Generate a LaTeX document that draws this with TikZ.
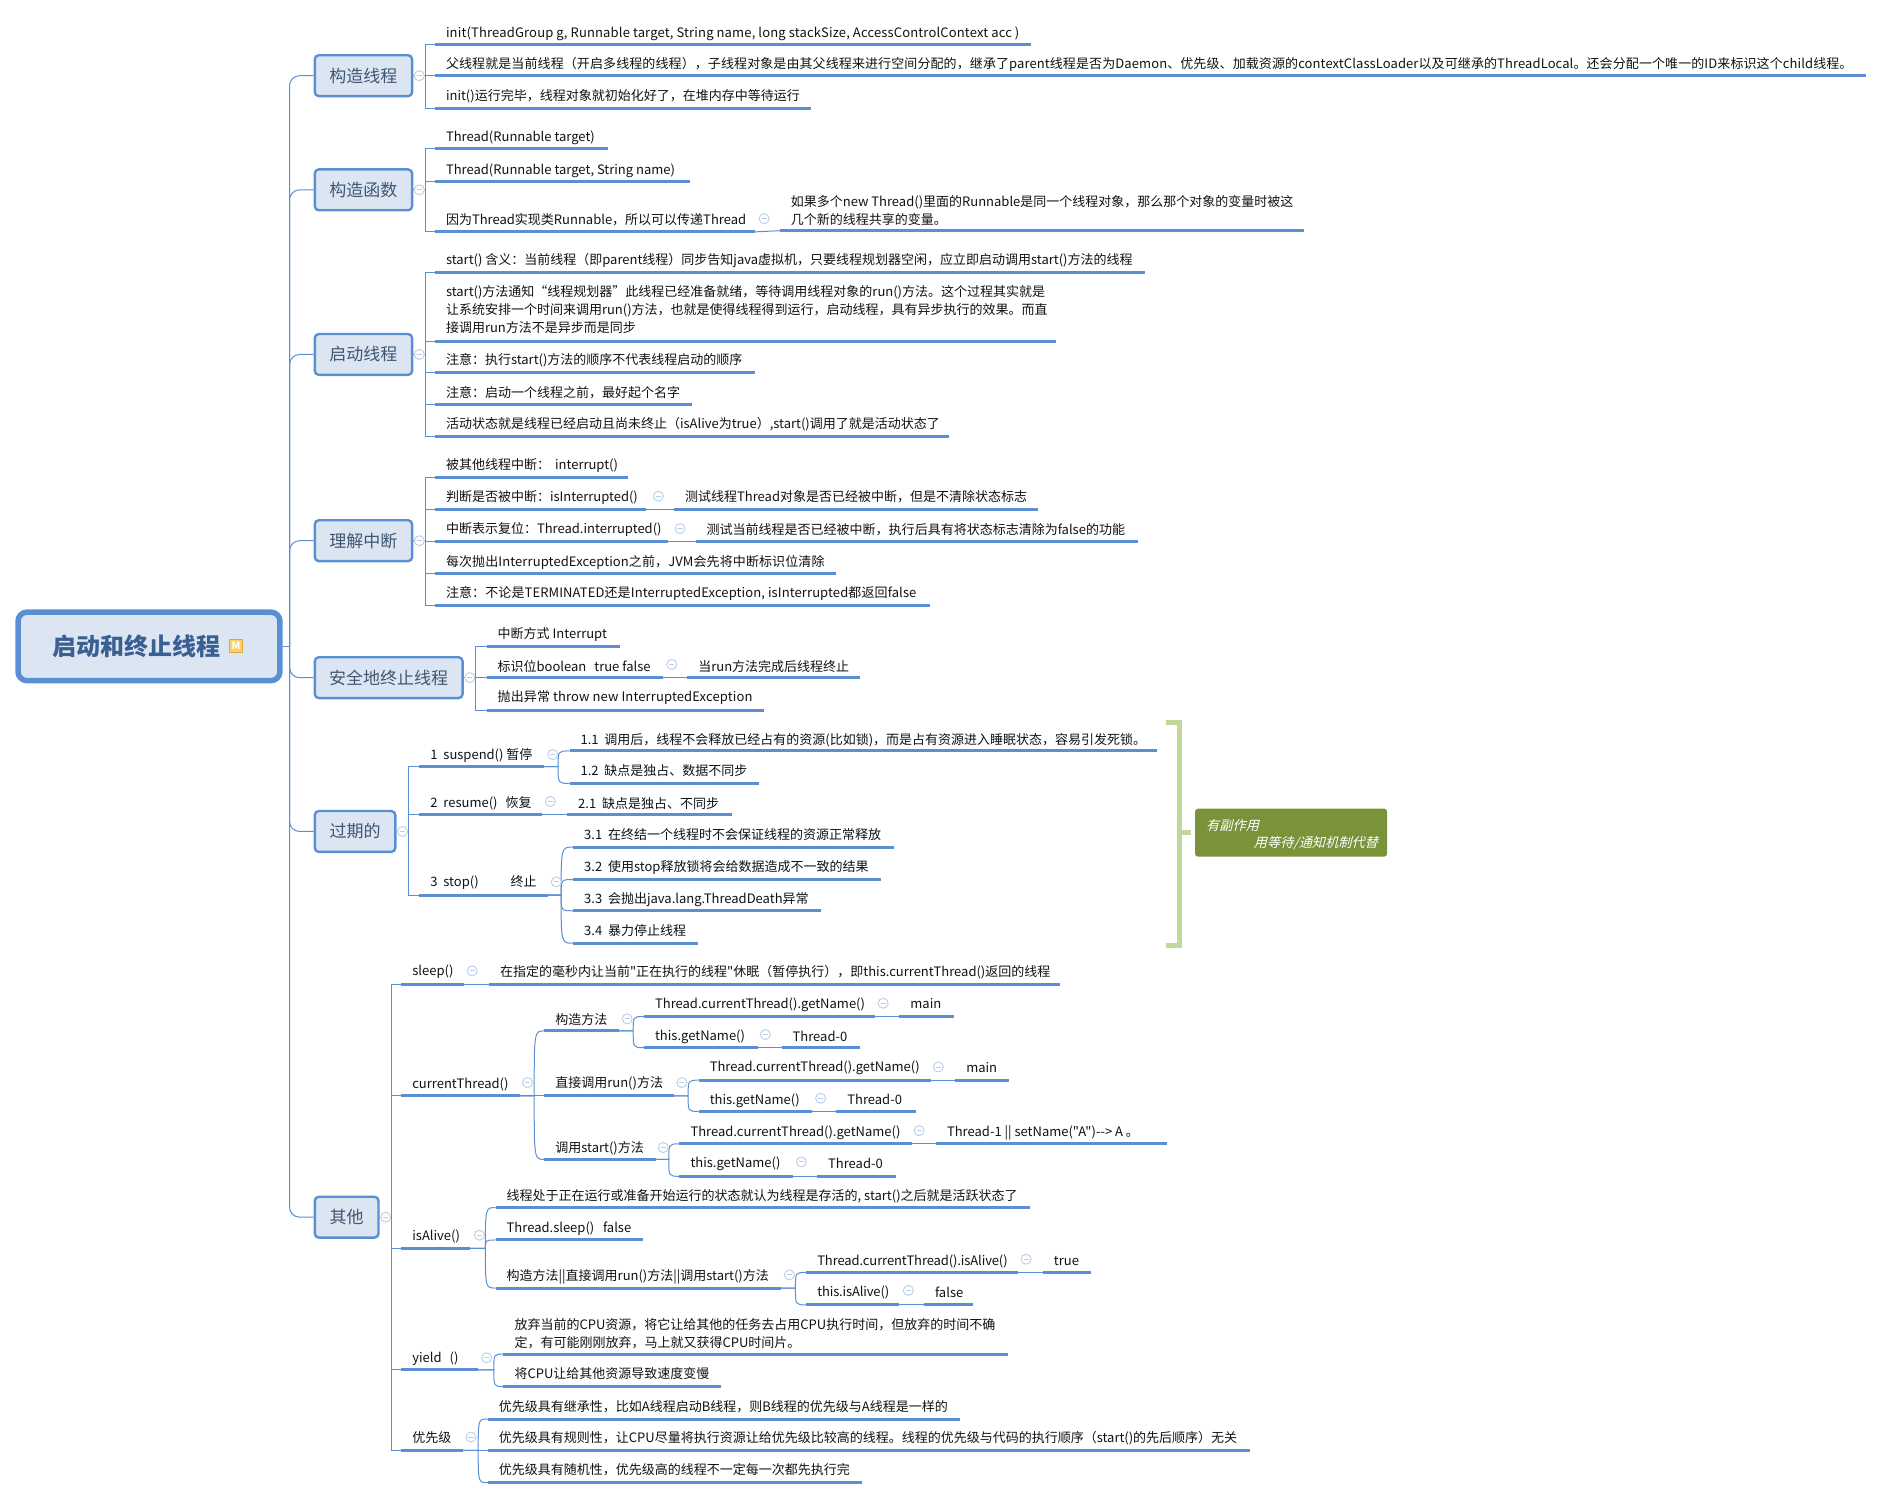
\documentclass[tikz,border=0pt]{standalone}
\usepackage{fontspec}
\setmainfont{Noto Sans CJK SC}
\newfontfamily\plainfont{Noto Sans CJK SC}
\newfontfamily\slantfont[FakeSlant=0.25]{Noto Sans CJK SC}
\usetikzlibrary{calc}
\definecolor{blueline}{HTML}{5B8FD4}
\definecolor{boxfill}{HTML}{DCE6F2}
\definecolor{boxtext}{HTML}{3F5673}
\definecolor{roottext}{HTML}{3A5F93}
\definecolor{leafink}{HTML}{111111}
\definecolor{collapseink}{HTML}{B9CDEA}
\definecolor{bracketgreen}{HTML}{C3D69B}
\definecolor{notegreen}{HTML}{7A923A}
\definecolor{iconfill}{HTML}{F9D36D}
\definecolor{iconline}{HTML}{E5A33B}
\tikzset{
  x=1.2015pt,y=-1.2015pt,
  uline/.style={draw=blueline,line width=3pt},
  conn/.style={draw=blueline,line width=1pt},
  leaftext/.style={anchor=west,inner sep=0pt,outer sep=0pt,text=leafink,align=left,font=\plainfont\fontsize{13}{18}\selectfont},
  topic/.style={draw=blueline,line width=2.4pt,fill=boxfill,rounded corners=4pt,inner sep=0pt,text=boxtext,font=\fontsize{17}{20}\selectfont},
  rootbox/.style={draw=blueline,line width=5.5pt,fill=boxfill,rounded corners=9pt,inner sep=0pt},
  collapse/.style={circle,draw=collapseink,line width=.9pt,fill=white,minimum size=10pt,inner sep=0pt,
    path picture={\draw[collapseink,line width=.9pt] ([xshift=-2.6pt]path picture bounding box.center)--([xshift=2.6pt]path picture bounding box.center);}},
}
\newcommand\st{\rule[-2pt]{0pt}{14.9pt}}
\newcommand\ls[2]{{\addfontfeature{LetterSpace=#1}#2}}
\newcommand\lf[6]{\coordinate (#1a) at (#2,#5);\coordinate (#1b) at (#3,#5);
  \node[leaftext] (#1) at (#2+9.2,#4) {\st #6};\draw[uline] (#1a)--(#1b);}
\newcommand\topicbox[6]{\pgfmathsetmacro\bw{(#4-#2)*1.2015}\pgfmathsetmacro\bh{(#5-#3)*1.2015}
  \node[topic,minimum width=\bw pt,minimum height=\bh pt] (#1) at ({(#2+#4)/2},{(#3+#5)/2}) {#6};}
\newcommand\cp[3]{\node[collapse] (#1) at (#2,#3) {};}
\newcommand\sqs[3]{\foreach \ch in {#3}{\draw[conn] (#1) -- (#1 -| #2) |- (\ch a);}}
\newcommand\cvs[3]{\foreach \ch in {#3}{\draw[conn] (#1) -- (#1 -| #2) .. controls (\ch a -| #2) .. (\ch a);}}
\newcommand\tr[1]{\draw[conn,rounded corners=10pt] (root.east -| trunk) |- (#1.west);}
\begin{document}
\begin{tikzpicture}
\useasboundingbox (0,0) rectangle (1568,1247.6);
% root
\pgfmathsetmacro\rw{(233-15)*1.2015}\pgfmathsetmacro\rh{(567-510)*1.2015}
\node[rootbox,minimum width=\rw pt,minimum height=\rh pt] (root) at (124,538) {};
\node[inner sep=0pt,text=roottext,font=\fontsize{24}{28}\selectfont\bfseries] (roottitle) at (113.5,538) {启动和终止线程};
\node[draw=iconline,fill=iconfill,line width=1pt,minimum size=13.5pt,inner sep=0pt,text=white,font=\fontsize{10}{10}\selectfont\bfseries] (icon) at (196.4,537.6) {M};
% topics
\coordinate (trunk) at (241,0);
\topicbox{t1}{262}{46}{343}{80}{构造线程}
\topicbox{t2}{262}{141}{343}{175}{构造函数}
\topicbox{t3}{262}{278}{343}{312}{启动线程}
\topicbox{t4}{262}{433}{343}{467}{理解中断}
\topicbox{t5}{262}{547}{385}{581}{安全地终止线程}
\topicbox{t6}{262}{675}{329}{709}{过期的}
\topicbox{t7}{262}{996}{315}{1030}{其他}
\draw[conn] (root.east) -- (root.east -| trunk);
\tr{t1}\tr{t2}\tr{t3}\tr{t4}\tr{t5}\tr{t6}\tr{t7}
% group 1
\coordinate (h1) at (354,0);
\lf{a1}{362}{858}{27}{37}{\ls{1.2}{init(ThreadGroup g, Runnable target, String name, long stackSize, AccessControlContext acc )}}
\lf{a2}{362}{1553}{53}{63}{\ls{0.75}{父线程就是当前线程（开启多线程的线程），子线程对象是由其父线程来进行空间分配的，继承了parent线程是否为Daemon、优先级、加载资源的contextClassLoader以及可继承的ThreadLocal。还会分配一个唯一的ID来标识这个child线程。}}
\lf{a3}{362}{675}{79}{90}{init()运行完毕，线程对象就初始化好了，在堆内存中等待运行}
\sqs{t1.east}{h1}{a1,a2,a3}
\cp{ca}{349}{63}
% group 2
\lf{b1}{362}{506}{114}{124}{Thread(Runnable target)}
\lf{b2}{362}{574}{141}{151}{Thread(Runnable target, String name)}
\lf{b3}{362}{628}{182}{193}{因为Thread实现类Runnable，所以可以传递Thread}
\lf{b4}{649}{1085}{174.5}{192}{如果多个new Thread()里面的Runnable是同一个线程对象，那么那个对象的变量时被这\\\st 几个新的线程共享的变量。}
\sqs{t2.east}{h1}{b1,b2,b3}
\draw[conn] (b3b) -- (b4a);
\cp{cb}{349}{158}\cp{cb3}{636}{182}
% group 3
\lf{c1}{362}{953}{216}{227}{start() 含义：当前线程（即parent线程）同步告知java虚拟机，只要线程规划器空闲，应立即启动调用start()方法的线程}
\lf{c2}{362}{879}{257}{284}{start()方法通知“线程规划器”此线程已经准备就绪，等待调用线程对象的run()方法。这个过程其实就是\\\st 让系统安排一个时间来调用run()方法，也就是使得线程得到运行，启动线程，具有异步执行的效果。而直\\\st 接调用run方法不是异步而是同步}
\lf{c3}{362}{628}{299}{310}{注意：执行start()方法的顺序不代表线程启动的顺序}
\lf{c4}{362}{576}{326}{337}{注意：启动一个线程之前，最好起个名字}
\lf{c5}{362}{790}{352}{363}{活动状态就是线程已经启动且尚未终止（isAlive为true）,start()调用了就是活动状态了}
\sqs{t3.east}{h1}{c1,c2,c3,c4,c5}
\cp{cc}{349}{295}
% group 4
\lf{d1}{362}{523}{387}{397}{被其他线程中断：~\,interrupt()}
\lf{d2}{362}{538}{413}{424}{判断是否被中断：isInterrupted()}
\lf{d2x}{561}{864}{413}{424}{测试线程Thread对象是否已经被中断，但是不清除状态标志}
\lf{d3}{362}{556}{440}{451}{中断表示复位：Thread.interrupted()}
\lf{d3x}{579}{947}{440}{451}{测试当前线程是否已经被中断，执行后具有将状态标志清除为false的功能}
\lf{d4}{362}{696}{467}{477}{\ls{0.8}{每次抛出InterruptedException之前，JVM会先将中断标识位清除}}
\lf{d5}{362}{774}{493}{504}{\ls{0.8}{注意：不论是TERMINATED还是InterruptedException, isInterrupted都返回false}}
\sqs{t4.east}{h1}{d1,d2,d3,d4,d5}
\draw[conn] (d2b) -- (d2xa);\draw[conn] (d3b) -- (d3xa);
\cp{cd}{349}{450}\cp{cd2}{548}{413}\cp{cd3}{566}{440}
% group 5
\coordinate (h5) at (396,0);
\lf{e1}{405}{516}{527}{538}{中断方式 Interrupt}
\lf{e2}{405}{552}{554}{564}{标识位boolean~~\,true false}
\lf{e2x}{572}{716}{554}{564}{当run方法完成后线程终止}
\lf{e3}{405}{636}{580}{591}{\ls{1.0}{抛出异常 throw new InterruptedException}}
\sqs{t5.east}{h5}{e1,e2,e3}
\draw[conn] (e2b) -- (e2xa);
\cp{ce}{391}{564}\cp{ce2}{559}{553}
% group 6
\coordinate (h6) at (340,0);
\lf{f1}{349}{453}{628}{638}{1~~suspend() 暂停}
\lf{f2}{349}{451}{668}{678}{2~~resume()~~\,恢复}
\lf{f3}{349}{456}{734}{745}{3~~stop()\hspace{32pt}终止}
\sqs{t6.east}{h6}{f1,f2,f3}
\cp{cf}{335}{692}
\coordinate (h61) at (464.5,0);
\lf{g1}{474}{963}{615}{625}{1.1~~调用后，线程不会释放已经占有的资源(比如锁)，而是占有资源进入睡眠状态，容易引发死锁。}
\lf{g2}{474}{632}{641}{652}{1.2~~缺点是独占、数据不同步}
\cvs{f1b}{h61}{g1,g2}
\cp{cf1}{460}{628}
\lf{g3}{472}{609}{668}{678}{2.1~~缺点是独占、不同步}
\draw[conn] (f2b) -- (g3a);
\cp{cf2}{458}{667}
\coordinate (h63) at (467,0);
\lf{i1}{477}{744}{694}{705}{3.1~~在终结一个线程时不会保证线程的资源正常释放}
\lf{i2}{477}{733}{721}{732}{3.2~~使用stop释放锁将会给数据造成不一致的结果}
\lf{i3}{477}{683}{748}{758}{3.3~~会抛出java.lang.ThreadDeath异常}
\lf{i4}{477}{581}{774}{785}{3.4~~暴力停止线程}
\cvs{f3b}{h63}{i1,i2,i3,i4}
\cp{cf3}{463}{734}
% side note
\coordinate (brt) at (970.5,601);
\coordinate (brb) at (970.5,787);
\coordinate (brm) at (982,693);
\coordinate (brc) at (982,601);
\coordinate (brd) at (982,787);
\pgfmathsetmacro\nw{(1154.4-994.6)*1.2015}\pgfmathsetmacro\nh{(713-673)*1.2015}
\node[fill=notegreen,rounded corners=3pt,minimum width=\nw pt,minimum height=\nh pt,inner sep=0pt] (note) at (1074.5,693) {};
\draw[draw=bracketgreen,line width=5pt] (brt) -- (brc) -- (brd) -- (brb);
\draw[draw=bracketgreen,line width=5pt] (brm) -- ([xshift=-4pt]note.west);
\node[anchor=west,inner sep=0pt,text=white,font=\slantfont\fontsize{13.2}{15}\selectfont] (note1) at (1003.7,687) {有副作用};
\node[anchor=east,inner sep=0pt,text=white,font=\slantfont\fontsize{13.2}{15}\selectfont] (note2) at (1147,702) {用等待/通知机制代替};
% group 7
\coordinate (h7) at (326,0);
\lf{j1}{334}{386}{808}{819}{sleep()}
\lf{j1x}{407}{882}{808}{819}{在指定的毫秒内让当前"正在执行的线程"休眠（暂停执行），即this.currentThread()返回的线程}
\draw[conn] (j1b) -- (j1xa);
\cp{cj1}{393}{808}
\lf{j2}{334}{433}{902}{912}{currentThread()}
\lf{j3}{334}{391}{1028}{1039}{isAlive()}
\lf{j4}{334}{398}{1130}{1140}{yield~~\,()}
\lf{j5}{334}{385}{1196}{1207}{优先级}
\sqs{t7.east}{h7}{j1,j2,j3,j4,j5}
\cp{cg}{321}{1013}
\coordinate (h72) at (444.6,0);
\lf{k1}{453}{515}{848}{858}{构造方法}
\lf{k2}{453}{561}{901}{912}{直接调用run()方法}
\lf{k3}{453}{545.6}{955}{965}{调用start()方法}
\cvs{j2b}{h72}{k1,k2,k3}
\cp{cj2}{439}{901}
\coordinate (h7k1) at (527,0);
\lf{l1}{536}{728}{835}{846}{Thread.currentThread().getName()}
\lf{l1x}{748.5}{793.6}{835}{846}{main}
\lf{l2}{536}{630.5}{862}{872}{this.getName()}
\lf{l2x}{650.5}{716}{862}{872}{Thread-0}
\cvs{k1b}{h7k1}{l1,l2}
\draw[conn] (l1b) -- (l1xa);\draw[conn] (l2b) -- (l2xa);
\cp{ck1}{522}{848}\cp{cl1}{735}{835}\cp{cl2}{637}{861}
\coordinate (h7k2) at (572.7,0);
\lf{m1}{581.5}{774.5}{888}{899}{Thread.currentThread().getName()}
\lf{m1x}{795}{839.5}{888}{899}{main}
\lf{m2}{581.5}{676}{915}{925}{this.getName()}
\lf{m2x}{696}{762}{915}{925}{Thread-0}
\cvs{k2b}{h7k2}{m1,m2}
\draw[conn] (m1b) -- (m1xa);\draw[conn] (m2b) -- (m2xa);
\cp{ck2}{567.5}{901}\cp{cm1}{781}{888}\cp{cm2}{683}{914}
\coordinate (h7k3) at (556.6,0);
\lf{n1}{565.5}{758.7}{942}{952}{Thread.currentThread().getName()}
\lf{n1x}{779}{971}{942}{952}{Thread-1 || setName("A")-{}-> A 。}
\lf{n2}{565.5}{660}{968}{979}{this.getName()}
\lf{n2x}{680}{746}{968}{979}{Thread-0}
\cvs{k3b}{h7k3}{n1,n2}
\draw[conn] (n1b) -- (n1xa);\draw[conn] (n2b) -- (n2xa);
\cp{ck3}{552}{955}\cp{cn1}{765}{941}\cp{cn2}{667}{967}
\coordinate (h73) at (404,0);
\lf{o1}{412.5}{857}{995}{1005}{线程处于正在运行或准备开始运行的状态就认为线程是存活的, start()之后就是活跃状态了}
\lf{o2}{412.5}{535}{1022}{1032}{Thread.sleep()~~~false}
\lf{o3}{412.5}{650}{1062}{1072}{构造方法||直接调用run()方法||调用start()方法}
\cvs{j3b}{h73}{o1,o2,o3}
\cp{cj3}{399}{1028}
\coordinate (h733) at (662,0);
\lf{p1}{671}{847}{1049}{1059}{\ls{-0.8}{Thread.currentThread().isAlive()}}
\lf{p1x}{868}{908}{1049}{1059}{true}
\lf{p2}{671}{748}{1075}{1086}{\ls{-1}{this.isAlive()}}
\lf{p2x}{769}{810}{1075}{1086}{false}
\cvs{o3b}{h733}{p1,p2}
\draw[conn] (p1b) -- (p1xa);\draw[conn] (p2b) -- (p2xa);
\cp{co3}{657}{1061}\cp{cp1}{854}{1048}\cp{cp2}{756}{1074}
\coordinate (h74) at (411,0);
\lf{q1}{419}{839}{1109.5}{1127}{放弃当前的CPU资源，将它让给其他的任务去占用CPU执行时间，但放弃的时间不确\\\st 定，有可能刚刚放弃，马上就又获得CPU时间片。}
\lf{q2}{419}{600}{1143}{1154}{将CPU让给其他资源导致速度变慢}
\cvs{j4b}{h74}{q1,q2}
\cp{cj4}{405}{1130}
\coordinate (h75) at (398,0);
\lf{r1}{406}{799}{1170}{1181}{优先级具有继承性，比如A线程启动B线程，则B线程的优先级与A线程是一样的}
\lf{r2}{406}{1040}{1196}{1207}{优先级具有规则性，让CPU尽量将执行资源让给优先级比较高的线程。线程的优先级与代码的执行顺序（start()的先后顺序）无关}
\lf{r3}{406}{717}{1223}{1234}{优先级具有随机性，优先级高的线程不一定每一次都先执行完}
\cvs{j5b}{h75}{r1,r2,r3}
\cp{cj5}{392}{1196}
\end{tikzpicture}
\end{document}
